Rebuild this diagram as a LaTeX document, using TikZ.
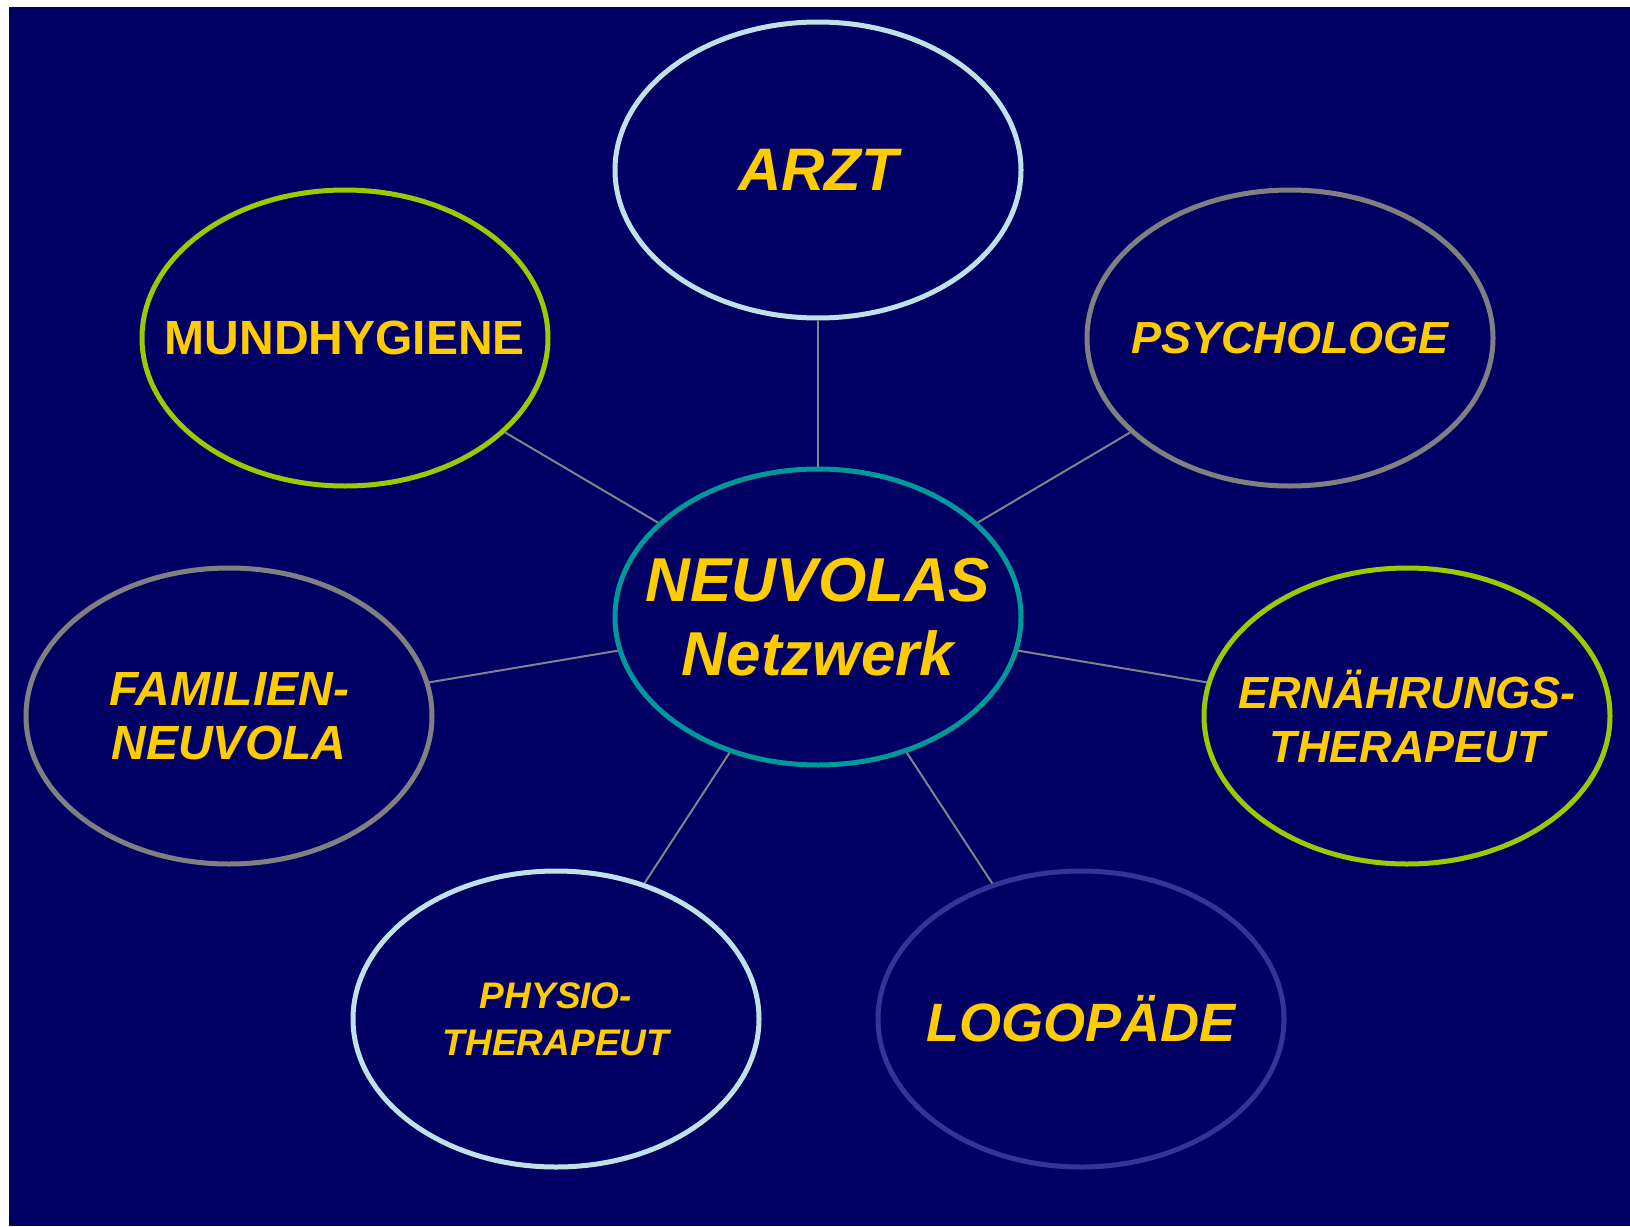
\documentclass[tikz,border=0pt]{standalone}
\usepackage{fontspec}
\setmainfont{Liberation Sans}
\usepackage{tikz}
\usetikzlibrary{shapes.geometric}
\definecolor{navy}{RGB}{0,0,100}
\definecolor{label}{RGB}{255,204,0}
\definecolor{paleblue}{RGB}{190,226,232}
\definecolor{lime}{RGB}{153,204,0}
\definecolor{stone}{RGB}{128,128,128}
\definecolor{teal}{RGB}{0,153,153}
\definecolor{violet}{RGB}{51,51,153}
\definecolor{linkgrey}{RGB}{130,130,140}

\begin{document}
\begin{tikzpicture}[x=1pt, y=-1pt,
    bubble/.style = {ellipse, draw, line width=5pt, fill=navy,
                     minimum width=406pt, minimum height=296pt,
                     inner sep=0pt},
    caption/.style = {text=label, align=center, inner sep=0pt},
    link/.style = {draw=linkgrey, line width=2pt}]
    \useasboundingbox (0,0) rectangle (1630,1226);
    \fill[navy] (9,7) rectangle (1630,1226);

    \node[bubble, draw=teal,
          label={[caption, font={\bfseries\itshape\fontsize{62}{74}\selectfont}]center:NEUVOLAS\\Netzwerk}]
          (netz) at (818,617) {};
    \node[bubble, draw=paleblue,
          label={[caption, font={\bfseries\itshape\fontsize{60}{66}\selectfont}]center:ARZT}]
          (arzt) at (818,170) {};
    \node[bubble, draw=lime,
          label={[caption, font={\bfseries\fontsize{48}{54}\selectfont}]center:MUNDHYGIENE}]
          (mund) at (345,338) {};
    \node[bubble, draw=stone,
          label={[caption, font={\bfseries\itshape\fontsize{45}{54}\selectfont}]center:PSYCHOLOGE}]
          (psych) at (1290,338) {};
    \node[bubble, draw=stone,
          label={[caption, font={\bfseries\itshape\fontsize{48}{54}\selectfont}]center:FAMILIEN-\\NEUVOLA}]
          (familie) at (229,716) {};
    \node[bubble, draw=lime,
          label={[caption, font={\bfseries\itshape\fontsize{45}{54}\selectfont}]center:ERNÄHRUNGS-\\THERAPEUT}]
          (ernaehrung) at (1407,716) {};
    \node[bubble, draw=paleblue,
          label={[caption, font={\bfseries\itshape\fontsize{37}{47}\selectfont}]center:PHYSIO-\\THERAPEUT}]
          (physio) at (556,1019) {};
    \node[bubble, draw=violet,
          label={[caption, font={\bfseries\itshape\fontsize{54}{60}\selectfont}]center:LOGOPÄDE}]
          (logo) at (1081,1019) {};

    \foreach \n in {arzt, mund, psych, familie, ernaehrung, physio, logo}
        \draw[link] (netz) -- (\n);
\end{tikzpicture}
\end{document}
